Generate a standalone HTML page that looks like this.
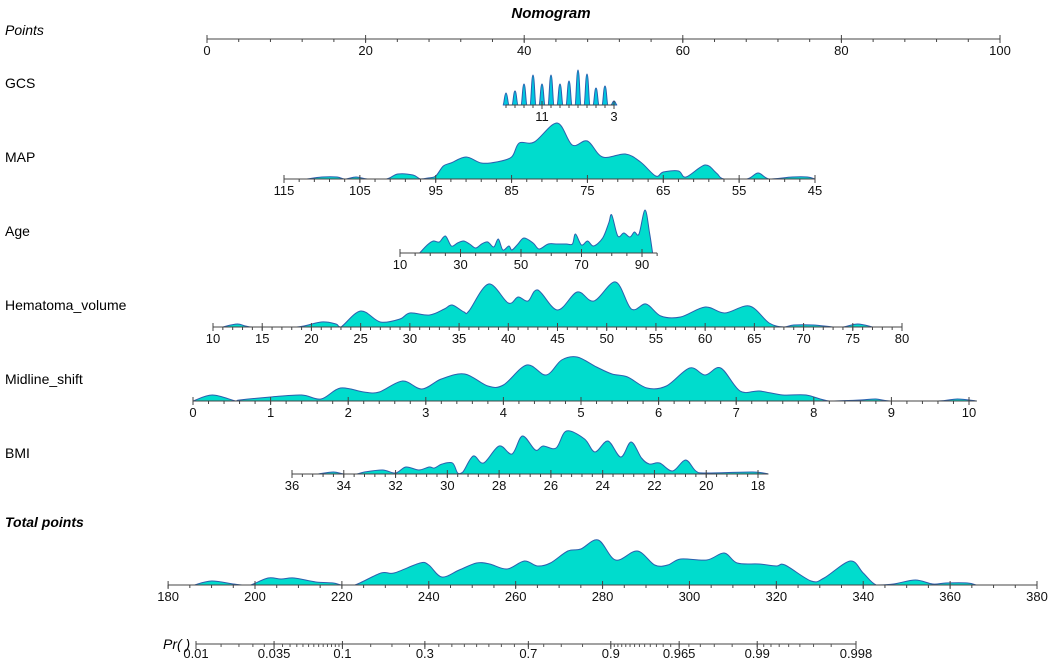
<!DOCTYPE html>
<html><head><meta charset="utf-8"><style>
html,body{margin:0;padding:0;background:#fff;}
svg{display:block;font-family:"Liberation Sans",Arial,sans-serif;}
</style></head><body>
<svg id="chart" width="1052" height="669" viewBox="0 0 1052 669" xmlns="http://www.w3.org/2000/svg">
<text x="551" y="18" text-anchor="middle" font-size="15" font-weight="bold" font-style="italic">Nomogram</text>
<g font-size="14" fill="#000">
<text x="5" y="35" font-style="italic">Points</text>
<text x="5" y="88">GCS</text>
<text x="5" y="162">MAP</text>
<text x="5" y="236">Age</text>
<text x="5" y="310">Hematoma_volume</text>
<text x="5" y="384">Midline_shift</text>
<text x="5" y="458">BMI</text>
<text x="5" y="527" font-weight="bold" font-style="italic">Total points</text>
<text x="163" y="649" font-style="italic">Pr(  )</text>
</g>
<g id="marks"></g>
</svg>
<script>
// ---- data ----
const pointsTicks = [0,20,40,60,80,100];
const gcsValues = [15,14,13,12,11,10,9,8,7,6,5,4,3];
const gcsDensity = [12,14,21,30,21,30,21,24,35,31,17,19,4];
const gcsTicks = [11,3];
const mapValues = [112,110,108,107,105.5,104,101.5,100,98,97,96,95,94,93,91,89,87,85,84,82,79,77,75,73,70,68,66,65,63,62,59.5,58,57,54,52.5,51,48,46,45];
const mapDensity = [0,2,2,0,2,0,0,5,4,0,1,3,13,16,22,16,17,22,36,37,56,34,38,22,25,17,3,7,8,2,14,6,0,0,6,0,2,2,0];
const mapTicks = [115,105,95,85,75,65,55,45];
const ageValues = [16.5,19,21,23,25,27,29,31,33,35,37,39,41,42.5,44,46,47,49,51,54,56,59,62,65,67,68,70,72,74,77,79,80,82,84,86,87.5,89,91,92.5,93.5];
const ageDensity = [0,8,12,11,17,7,10,12,9,5,9,11,6,14,3,7,3,9,15,10,4,9,9,9,9,19,8,12,7,15,30,38,17,20,16,21,19,43,20,0];
const ageTicks = [10,30,50,70,90];
const hemValues = [11,12.5,14,18.5,21,22.5,23,25,27,29,30,32,33.5,34.3,35.5,36,38,40,41,42,43,45,47,48.7,50.9,52.5,54,55.5,57.5,60,62,64.5,66.5,68,69,71,73,74,75.5,77];
const hemDensity = [0,3,0,0,5,3,0,16,5,8,14,12,18,22,15,16,43,24,30,26,37,17,35,26,45,18,23,11,10,20,14,21,4,0,2,2,0,0,3,0];
const hemTicks = [10,15,20,25,30,35,40,45,50,55,60,65,70,75,80];
const midValues = [0,0.25,0.55,0.6,1,1.4,1.65,1.9,2.2,2.4,2.7,2.95,3.2,3.5,3.8,4,4.3,4.55,4.75,4.95,5.2,5.4,5.6,5.85,6.1,6.4,6.6,6.8,7.05,7.3,7.6,7.9,8.2,8.6,8.8,9,9.6,9.85,10.1];
const midDensity = [0,6,0,1,4,6,2,13,9,9,20,12,22,27,15,16,36,26,41,44,34,27,24,13,15,33,26,33,10,10,6,6,0,1,2,0,0,2,0];
const midTicks = [0,1,2,3,4,5,6,7,8,9,10];
const bmiValues = [35,34.4,34,33.5,33.2,32.5,32,31.6,31.1,30.7,30.5,30.2,29.8,29.6,29.4,29,28.6,28,27.5,27.1,26.6,26.3,25.8,25.4,24.7,24.3,23.8,23.3,22.9,22.5,22.2,21.8,21.3,20.8,20.4,20,18.2,17.6];
const bmiDensity = [0,2,0,0,2,4,1,7,4,7,6,10,11,1,2,18,11,28,20,38,24,28,26,43,35,22,33,17,32,16,10,11,3,14,3,1,2,0];
const bmiTicks = [36,34,32,30,28,26,24,22,20,18];
const totalValues = [186,190,195,197,199,203,206,209,214,218,220,223,229,232,238,240,243,247,251,254,258,262,265,268,272,275,279,283,288,292,295,298,304,308,311,316,320,322,328,331,337,340,343,347,352,356,359,364,366];
const totalDensity = [0,4,1,0,0,7,6,7,3,2,0,0,12,12,22,20,8,15,22,21,16,24,19,22,34,36,45,25,34,20,20,26,25,32,22,21,19,20,4,7,24,12,0,1,5,1,2,2,0];
const totalTicks = [180,200,220,240,260,280,300,320,340,360,380];
const probTicks = ["0.01","0.035","0.1","0.3","0.7","0.9","0.965","0.99","0.998"];

// ---- axes ----
function lin(v0,x0,v1,x1){return v=>x0+(v-v0)*(x1-x0)/(v1-v0);}
const axPoints = {x:lin(0,207,100,1000), y:39, lo:0, hi:100, step:4};
const axGcs = {x:lin(15,506,3,614), y:105, lo:3, hi:15, step:1};
const axMap = {x:lin(115,284,45,815), y:179, lo:45, hi:115, step:2};
const axAge = {x:lin(10,400,90,642), y:253, lo:10, hi:95, step:5};
const axHem = {x:lin(10,213,80,902), y:327, lo:10, hi:80, step:1};
const axMid = {x:lin(0,193,10,969), y:401, lo:0, hi:10.1, step:0.2};
const axBmi = {x:lin(36,292,18,758), y:474, lo:17.6, hi:36, step:0.4};
const axTotal = {x:lin(200,255,380,1037), y:585, lo:180, hi:380, step:5};
const logit = p=>Math.log(p/(1-p));
const probX = lin(logit(0.01),196,logit(0.998),856);
const densY = d=>d;

const NS="http://www.w3.org/2000/svg";
const g=document.getElementById('marks');
function el(tag,attrs,parent){const e=document.createElementNS(NS,tag);for(const k in attrs)e.setAttribute(k,attrs[k]);(parent||g).appendChild(e);return e;}

function drawAxis(ax,labels,name){
  const grp=el('g',{});
  
  
  const xa=ax.x(ax.lo), xb=ax.x(ax.hi);
  const l=el('line',{x1:Math.min(xa,xb),x2:Math.max(xa,xb),y1:ax.y,y2:ax.y,stroke:'#444','stroke-width':1},grp);
  
  
  const start=Math.min(...labels);
  for(let v=start; v<=Math.max(ax.hi,...labels)+1e-6; v+=ax.step){
    const t=el('line',{x1:ax.x(v),x2:ax.x(v),y1:ax.y,y2:ax.y+3,stroke:'#444','stroke-width':1},grp);
    
    
  }
  labels.forEach(v=>{
    const t=el('line',{x1:ax.x(v),x2:ax.x(v),y1:ax.y-4,y2:ax.y+4,stroke:'#444','stroke-width':1},grp);
    
    
    const tx=el('text',{x:ax.x(v),y:ax.y+16,'text-anchor':'middle','font-size':13,fill:'#111'},grp);
    tx.textContent=v;
    
    
  });
}

function smoothPath(pts,base){
  let d=`M${pts[0][0]},${base} L${pts[0][0]},${pts[0][1]}`;
  for(let i=0;i<pts.length-1;i++){
    const p0=pts[Math.max(0,i-1)],p1=pts[i],p2=pts[i+1],p3=pts[Math.min(pts.length-1,i+2)];
    const c1x=p1[0]+(p2[0]-p0[0])/6, c1y=Math.min(base,p1[1]+(p2[1]-p0[1])/6);
    const c2x=p2[0]-(p3[0]-p1[0])/6, c2y=Math.min(base,p2[1]-(p3[1]-p1[1])/6);
    d+=` C${c1x},${c1y} ${c2x},${c2y} ${p2[0]},${p2[1]}`;
  }
  return d+` L${pts[pts.length-1][0]},${base} Z`;
}

function drawDensity(ax,vals,dens,name){
  const pts=vals.map((v,i)=>[ax.x(v),ax.y-densY(dens[i])]);
  const p=el('path',{d:smoothPath(pts,ax.y),fill:'#00dccd',stroke:'#2b5fae','stroke-width':1});
  
  
}

(function(){
  const ax=axGcs; let d='';
  gcsValues.forEach((v,i)=>{
    const x=ax.x(v), h=densY(gcsDensity[i]), w=3.2;
    d+=`M${x-w},${ax.y} C${x-w*0.55},${ax.y} ${x-w*0.5},${ax.y-h} ${x},${ax.y-h} C${x+w*0.5},${ax.y-h} ${x+w*0.55},${ax.y} ${x+w},${ax.y} Z `;
  });
  const p=el('path',{d:d,fill:'#00c8e0',stroke:'#2b5fae','stroke-width':1});
  
  
})();

drawDensity(axMap,mapValues,mapDensity,'map');
drawDensity(axAge,ageValues,ageDensity,'age');
drawDensity(axHem,hemValues,hemDensity,'hematoma-volume');
drawDensity(axMid,midValues,midDensity,'midline-shift');
drawDensity(axBmi,bmiValues,bmiDensity,'bmi');
drawDensity(axTotal,totalValues,totalDensity,'total-points');

drawAxis(axPoints,pointsTicks,'points');
drawAxis(axGcs,gcsTicks,'gcs');
drawAxis(axMap,mapTicks,'map');
drawAxis(axAge,ageTicks,'age');
drawAxis(axHem,hemTicks,'hematoma-volume');
drawAxis(axMid,midTicks,'midline-shift');
drawAxis(axBmi,bmiTicks,'bmi');
drawAxis(axTotal,totalTicks,'total-points');

(function(){
  const grp=el('g',{});
  
  
  const y=644;
  const l=el('line',{x1:probX(logit(0.01)),x2:probX(logit(0.998)),y1:y,y2:y,stroke:'#444'},grp);
  
  
  const minors=[];
  for(let p=0.01;p<0.1;p+=0.005)minors.push(p);
  for(let p=0.1;p<0.9;p+=0.05)minors.push(p);
  for(let p=0.9;p<0.99;p+=0.005)minors.push(p);
  for(let p=0.99;p<=0.998;p+=0.001)minors.push(p);
  minors.forEach(p=>{
    const t=el('line',{x1:probX(logit(p)),x2:probX(logit(p)),y1:y,y2:y+3,stroke:'#555'},grp);
    
    
  });
  probTicks.forEach(s=>{
    const x=probX(logit(parseFloat(s)));
    const t=el('line',{x1:x,x2:x,y1:y-3,y2:y+5,stroke:'#444'},grp);
    
    
    const tx=el('text',{x:x,y:y+14,'text-anchor':'middle','font-size':13,fill:'#111'},grp);
    tx.textContent=s;
    
    
  });
})();
</script>
</body></html>
